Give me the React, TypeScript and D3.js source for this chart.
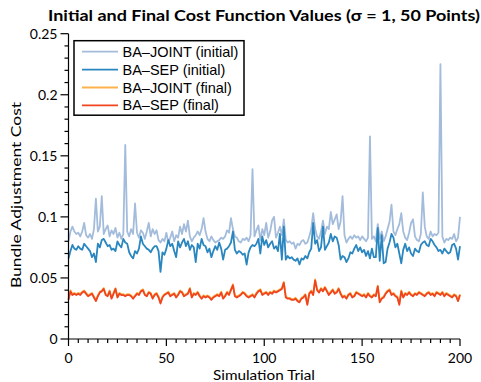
import React from 'react';
import * as d3 from 'd3';

const seriesNames = ['BA\u2013JOINT (initial)', 'BA\u2013SEP (initial)', 'BA\u2013JOINT (final)', 'BA\u2013SEP (final)'];
const seriesColors = ['#a3bcdc', '#2a86bf', '#fdb24c', '#f0441e'];

const xTickValues = [0, 50, 100, 150, 200];
const xTickLabels = ['0', '50', '100', '150', '200'];
const yTickValues = [0, 0.05, 0.1, 0.15, 0.2, 0.25];
const yTickLabels = ['0', '0.05', '0.1', '0.15', '0.2', '0.25'];

const jointInitial = [
  0.080, 0.088, 0.092, 0.088, 0.086, 0.087, 0.084, 0.088, 0.095, 0.085,
  0.083, 0.086, 0.082, 0.090, 0.115, 0.088, 0.092, 0.117, 0.086, 0.090,
  0.093, 0.084, 0.089, 0.086, 0.091, 0.083, 0.087, 0.082, 0.086, 0.159,
  0.088, 0.084, 0.090, 0.086, 0.111, 0.087, 0.083, 0.089, 0.087, 0.082,
  0.088, 0.095, 0.084, 0.090, 0.086, 0.089, 0.081, 0.079, 0.082, 0.080,
  0.087, 0.079, 0.083, 0.088, 0.080, 0.085, 0.083, 0.092, 0.086, 0.094,
  0.088, 0.097, 0.084, 0.080, 0.083, 0.085, 0.088, 0.085, 0.090, 0.099,
  0.088, 0.082, 0.080, 0.084, 0.081, 0.079, 0.080, 0.081, 0.083, 0.082,
  0.084, 0.089, 0.087, 0.099, 0.090, 0.084, 0.083, 0.080, 0.079, 0.082,
  0.081, 0.083, 0.080, 0.085, 0.139, 0.084, 0.089, 0.093, 0.081, 0.090,
  0.085, 0.095, 0.083, 0.088, 0.097, 0.100, 0.083, 0.087, 0.092, 0.085,
  0.098, 0.081, 0.079, 0.080, 0.078, 0.079, 0.074, 0.078, 0.077, 0.080,
  0.081, 0.078, 0.079, 0.084, 0.090, 0.103, 0.090, 0.084, 0.082, 0.088,
  0.097, 0.086, 0.092, 0.090, 0.104, 0.094, 0.098, 0.102, 0.090, 0.096,
  0.117, 0.085, 0.079, 0.082, 0.084, 0.082, 0.085, 0.083, 0.084, 0.081,
  0.084, 0.082, 0.080, 0.083, 0.166, 0.082, 0.084, 0.080, 0.094, 0.082,
  0.088, 0.080, 0.084, 0.090, 0.096, 0.110, 0.088, 0.085, 0.090, 0.094,
  0.103, 0.088, 0.083, 0.081, 0.087, 0.095, 0.098, 0.084, 0.081, 0.080,
  0.086, 0.120, 0.092, 0.084, 0.082, 0.088, 0.084, 0.086, 0.085, 0.087,
  0.225, 0.084, 0.079, 0.082, 0.081, 0.083, 0.082, 0.086, 0.080, 0.083,
  0.100,
];

const sepInitial = [
  0.066, 0.072, 0.077, 0.074, 0.073, 0.076, 0.074, 0.073, 0.078, 0.076,
  0.074, 0.072, 0.067, 0.070, 0.063, 0.078, 0.075, 0.081, 0.082, 0.079,
  0.076, 0.077, 0.073, 0.074, 0.072, 0.080, 0.077, 0.075, 0.082, 0.079,
  0.078, 0.071, 0.068, 0.066, 0.072, 0.070, 0.074, 0.084, 0.078, 0.076,
  0.074, 0.073, 0.071, 0.074, 0.076, 0.076, 0.072, 0.055, 0.071, 0.069,
  0.074, 0.081, 0.076, 0.078, 0.072, 0.067, 0.080, 0.075, 0.079, 0.082,
  0.076, 0.080, 0.073, 0.077, 0.075, 0.063, 0.078, 0.074, 0.082, 0.077,
  0.076, 0.071, 0.074, 0.067, 0.072, 0.076, 0.073, 0.079, 0.074, 0.065,
  0.073, 0.074, 0.076, 0.079, 0.088, 0.073, 0.070, 0.072, 0.071, 0.069,
  0.070, 0.061, 0.071, 0.075, 0.077, 0.076, 0.078, 0.082, 0.070, 0.084,
  0.077, 0.081, 0.075, 0.078, 0.080, 0.074, 0.076, 0.072, 0.086, 0.065,
  0.092, 0.065, 0.068, 0.066, 0.067, 0.065, 0.064, 0.066, 0.061, 0.066,
  0.065, 0.068, 0.066, 0.071, 0.074, 0.095, 0.078, 0.081, 0.072, 0.075,
  0.092, 0.073, 0.076, 0.079, 0.086, 0.080, 0.084, 0.083, 0.077, 0.065,
  0.068, 0.067, 0.063, 0.066, 0.071, 0.070, 0.074, 0.077, 0.072, 0.075,
  0.071, 0.073, 0.068, 0.072, 0.066, 0.074, 0.067, 0.067, 0.091, 0.064,
  0.085, 0.062, 0.063, 0.074, 0.079, 0.086, 0.083, 0.075, 0.078, 0.070,
  0.062, 0.073, 0.078, 0.072, 0.075, 0.070, 0.068, 0.074, 0.072, 0.071,
  0.077, 0.079, 0.080, 0.077, 0.076, 0.082, 0.080, 0.077, 0.075, 0.072,
  0.073, 0.070, 0.074, 0.072, 0.070, 0.071, 0.077, 0.078, 0.074, 0.065,
  0.076,
];

const jointFinal = [
  0.0328, 0.0398, 0.0366, 0.0378, 0.0367, 0.0378, 0.0369, 0.0386, 0.0397, 0.0378,
  0.0357, 0.0368, 0.0377, 0.0348, 0.0318, 0.0357, 0.0388, 0.0397, 0.0418, 0.0368,
  0.0357, 0.0398, 0.0338, 0.0377, 0.0417, 0.0348, 0.0378, 0.0367, 0.0368, 0.0357,
  0.0368, 0.0367, 0.0358, 0.0338, 0.0357, 0.0378, 0.0367, 0.0398, 0.0408, 0.0367,
  0.0358, 0.0387, 0.0378, 0.0338, 0.0367, 0.0378, 0.0348, 0.0298, 0.0347, 0.0368,
  0.0377, 0.0388, 0.0357, 0.0368, 0.0377, 0.0348, 0.0367, 0.0398, 0.0387, 0.0358,
  0.0368, 0.0377, 0.0418, 0.0348, 0.0377, 0.0368, 0.0388, 0.0357, 0.0338, 0.0357,
  0.0348, 0.0357, 0.0347, 0.0328, 0.0348, 0.0357, 0.0368, 0.0357, 0.0388, 0.0338,
  0.0357, 0.0388, 0.0367, 0.0408, 0.0448, 0.0357, 0.0348, 0.0357, 0.0368, 0.0387,
  0.0378, 0.0357, 0.0348, 0.0357, 0.0367, 0.0348, 0.0378, 0.0397, 0.0408, 0.0367,
  0.0378, 0.0387, 0.0368, 0.0388, 0.0377, 0.0398, 0.0387, 0.0398, 0.0408, 0.0417,
  0.0468, 0.0348, 0.0338, 0.0337, 0.0328, 0.0327, 0.0338, 0.0318, 0.0308, 0.0337,
  0.0348, 0.0367, 0.0288, 0.0378, 0.0397, 0.0368, 0.0488, 0.0408, 0.0387, 0.0418,
  0.0398, 0.0428, 0.0397, 0.0368, 0.0388, 0.0407, 0.0378, 0.0388, 0.0418, 0.0377,
  0.0348, 0.0357, 0.0338, 0.0367, 0.0378, 0.0347, 0.0358, 0.0388, 0.0377, 0.0368,
  0.0357, 0.0368, 0.0347, 0.0378, 0.0357, 0.0348, 0.0367, 0.0358, 0.0437, 0.0308,
  0.0337, 0.0348, 0.0378, 0.0397, 0.0408, 0.0367, 0.0378, 0.0357, 0.0348, 0.0288,
  0.0398, 0.0347, 0.0378, 0.0367, 0.0388, 0.0367, 0.0358, 0.0377, 0.0368, 0.0387,
  0.0378, 0.0367, 0.0358, 0.0377, 0.0388, 0.0368, 0.0377, 0.0358, 0.0387, 0.0378,
  0.0367, 0.0388, 0.0357, 0.0378, 0.0368, 0.0357, 0.0348, 0.0367, 0.0358, 0.0318,
  0.0367,
];

const sepFinal = [
  0.032, 0.039, 0.036, 0.037, 0.036, 0.037, 0.036, 0.038, 0.039, 0.037,
  0.035, 0.036, 0.037, 0.034, 0.031, 0.035, 0.038, 0.039, 0.041, 0.036,
  0.035, 0.039, 0.033, 0.037, 0.041, 0.034, 0.037, 0.036, 0.036, 0.035,
  0.036, 0.036, 0.035, 0.033, 0.035, 0.037, 0.036, 0.039, 0.040, 0.036,
  0.035, 0.038, 0.037, 0.033, 0.036, 0.037, 0.034, 0.029, 0.034, 0.036,
  0.037, 0.038, 0.035, 0.036, 0.037, 0.034, 0.036, 0.039, 0.038, 0.035,
  0.036, 0.037, 0.041, 0.034, 0.037, 0.036, 0.038, 0.035, 0.033, 0.035,
  0.034, 0.035, 0.034, 0.032, 0.034, 0.035, 0.036, 0.035, 0.038, 0.033,
  0.035, 0.038, 0.036, 0.040, 0.044, 0.035, 0.034, 0.035, 0.036, 0.038,
  0.037, 0.035, 0.034, 0.035, 0.036, 0.034, 0.037, 0.039, 0.040, 0.036,
  0.037, 0.038, 0.036, 0.038, 0.037, 0.039, 0.038, 0.039, 0.040, 0.041,
  0.046, 0.034, 0.033, 0.033, 0.032, 0.032, 0.033, 0.031, 0.030, 0.033,
  0.034, 0.036, 0.028, 0.037, 0.039, 0.036, 0.048, 0.040, 0.038, 0.041,
  0.039, 0.042, 0.039, 0.036, 0.038, 0.040, 0.037, 0.038, 0.041, 0.037,
  0.034, 0.035, 0.033, 0.036, 0.037, 0.034, 0.035, 0.038, 0.037, 0.036,
  0.035, 0.036, 0.034, 0.037, 0.035, 0.034, 0.036, 0.035, 0.043, 0.030,
  0.033, 0.034, 0.037, 0.039, 0.040, 0.036, 0.037, 0.035, 0.034, 0.028,
  0.039, 0.034, 0.037, 0.036, 0.038, 0.036, 0.035, 0.037, 0.036, 0.038,
  0.037, 0.036, 0.035, 0.037, 0.038, 0.036, 0.037, 0.035, 0.038, 0.037,
  0.036, 0.038, 0.035, 0.037, 0.036, 0.035, 0.034, 0.036, 0.035, 0.031,
  0.036,
];

const allSeries = [jointInitial, sepInitial, jointFinal, sepFinal];

const W = 481;
const H = 382;
const axisFont = 'Lato, "DejaVu Sans", sans-serif';
const legendFont = '"Liberation Sans", Arial, sans-serif';

export default function App() {
  const x = d3.scaleLinear().domain([0, 200]).range([68.5, 460]);
  const y = d3.scaleLinear().domain([0, 0.25]).range([339, 33.7]);

  const line = d3
    .line<number>()
    .x((_, i) => x(i))
    .y((d) => y(d));

  const xMinor = d3.range(0, 201, 5).filter((v) => v % 50 !== 0);
  const yMinor = d3.range(0, 26, 1).filter((v) => v % 5 !== 0).map((v) => v / 100);

  const legendX = 74;
  const legendY = 40.7;
  const rowH = 17.9;

  return (
    <svg
      width={W}
      height={H}
      style={{ position: 'absolute', left: 0, top: 0, display: 'block', background: '#fff' }}
    >
      <rect x={0} y={0} width={W} height={H} fill="#fff" />
      {/* title */}
      <text
        x={264}
        y={20.5}
        textAnchor="middle"
        fontFamily={axisFont}
        fontWeight="bold"
        fontSize={16}
        textLength={432}
        lengthAdjust="spacingAndGlyphs"
        fill="#000"
      >
        Initial and Final Cost Function Values ({'\u03c3'} = 1, 50 Points)
      </text>

      {/* series */}
      {allSeries.map((s, i) => (
        <path
          key={i}
          d={line(s) || ''}
          fill="none"
          stroke={seriesColors[i]}
          strokeWidth={1.8}
          strokeLinejoin="round"
        />
      ))}

      {/* axes */}
      <g stroke="#000" strokeWidth={1.2} fill="none">
        <line x1={x(0)} x2={x(0)} y1={y(0.25)} y2={y(0) + 0.6} />
        <line x1={x(0) - 0.6} x2={x(200)} y1={y(0)} y2={y(0)} />
        {yTickValues.map((v) => (
          <line key={'ym' + v} x1={x(0) - 8} x2={x(0)} y1={y(v)} y2={y(v)} />
        ))}
        {yMinor.map((v) => (
          <line key={'yn' + v} x1={x(0) - 4} x2={x(0)} y1={y(v)} y2={y(v)} />
        ))}
        {xTickValues.map((v) => (
          <line key={'xm' + v} x1={x(v)} x2={x(v)} y1={y(0)} y2={y(0) + 7} />
        ))}
        {xMinor.map((v) => (
          <line key={'xn' + v} x1={x(v)} x2={x(v)} y1={y(0)} y2={y(0) + 4} />
        ))}
      </g>
      <g fontFamily={axisFont} fontSize={14} fill="#000">
        {yTickValues.map((v, i) => (
          <text key={'yl' + v} x={x(0) - 11} y={y(v) + 5} textAnchor="end">
            {yTickLabels[i]}
          </text>
        ))}
        {xTickValues.map((v, i) => (
          <text key={'xl' + v} x={x(v)} y={362.5} textAnchor="middle">
            {xTickLabels[i]}
          </text>
        ))}
        <text
          x={264}
          y={380}
          textAnchor="middle"
          fontSize={12.5}
          textLength={102}
          lengthAdjust="spacingAndGlyphs"
        >
          Simulation Trial
        </text>
        <text
          transform="translate(20.5,195) rotate(-90)"
          textAnchor="middle"
          textLength={186}
          lengthAdjust="spacingAndGlyphs"
        >
          Bundle Adjustment Cost
        </text>
      </g>

      {/* legend */}
      <g>
        <rect
          x={legendX}
          y={legendY}
          width={170}
          height={74.5}
          fill="#fff"
          stroke="#000"
          strokeWidth={1.5}
        />
        {seriesNames.map((name, i) => (
          <g key={name}>
            <line
              x1={82}
              x2={118}
              y1={legendY + 11 + i * rowH}
              y2={legendY + 11 + i * rowH}
              stroke={seriesColors[i]}
              strokeWidth={1.8}
            />
            <text
              x={122.5}
              y={legendY + 16 + i * rowH}
              fontFamily={legendFont}
              fontSize={14.5}
              fill="#000"
            >
              {name}
            </text>
          </g>
        ))}
      </g>
    </svg>
  );
}
